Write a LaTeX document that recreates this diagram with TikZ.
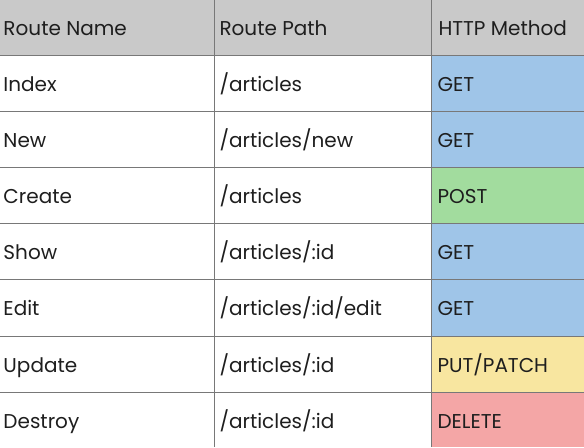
\documentclass[tikz,border=0pt]{standalone}
\usepackage{fontspec}
\setmainfont{Poppins}
\definecolor{hdrgray}{RGB}{201,201,201}
\definecolor{getblue}{RGB}{159,197,232}
\definecolor{postgreen}{RGB}{162,220,158}
\definecolor{putyellow}{RGB}{248,230,160}
\definecolor{delred}{RGB}{244,166,166}
\definecolor{rulegray}{RGB}{120,120,120}
\definecolor{inkblack}{RGB}{30,30,30}
\tikzset{every picture/.style={line width=0.75pt}}
\tikzset{celltext/.style={anchor=base west,inner sep=0pt,text=inkblack,font=\fontsize{15}{18}\selectfont}}

\begin{document}
\begin{tikzpicture}[x=0.75pt,y=0.75pt,yscale=-1,xscale=1]
        \useasboundingbox (0,0) rectangle (584,447);

        %Header fill
        \fill [hdrgray] (0,0) rectangle (584,55) ;
        %Method cells
        \fill [getblue] (431,55) rectangle (584,167) ;
        \fill [postgreen] (431,167) rectangle (584,223) ;
        \fill [getblue] (431,223) rectangle (584,336) ;
        \fill [putyellow] (431,336) rectangle (584,392) ;
        \fill [delred] (431,392) rectangle (584,447) ;

        %Rules
        \foreach \y in {55,111,167,223,279,336,392} {
            \draw [rulegray] (0,\y) -- (584,\y) ;
        }
        \draw [rulegray] (214,0) -- (214,447) ;
        \draw [rulegray] (431,0) -- (431,447) ;

        %Header text
        \node [celltext] (hdrName) at (3,35) {Route Name};
        \node [celltext] (hdrPath) at (219,35) {Route Path};
        \node [celltext] (hdrMethod) at (438,35) {HTTP Method};

        %Rows
        \foreach \name/\route/\meth/\top [count=\i] in {
            Index/{/articles}/GET/55,
            New/{/articles/new}/GET/111,
            Create/{/articles}/POST/167,
            Show/{/articles/:id}/GET/223,
            Edit/{/articles/:id/edit}/GET/279,
            Update/{/articles/:id}/PUT\slash PATCH/336,
            Destroy/{/articles/:id}/DELETE/392} {
            \node [celltext] (name\i) at (3,\top+36) {\name};
            \node [celltext] (path\i) at (219,\top+36) {\route};
            \node [celltext] (meth\i) at (437,\top+36) {\meth};
        }

\end{tikzpicture}
\end{document}
